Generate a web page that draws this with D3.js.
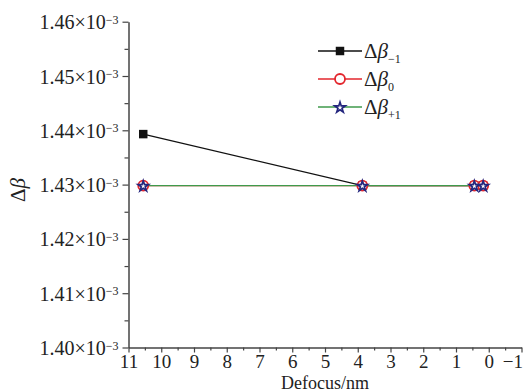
<!DOCTYPE html>
<html>
<head>
<meta charset="utf-8">
<script src="https://cdn.jsdelivr.net/npm/d3@7"></script>
<style>
body { margin: 0; background: #fff; }
svg text { font-family: "Liberation Serif", "Times New Roman", serif !important; fill: #222; }
</style>
</head>
<body>
<div id="chart"></div>
<script>
// values (Δβ in units of 1e-3)
var defocus = [10.55, 3.86, 0.44, 0.17];
var dBetaMinus1 = [1.4393, 1.4298, 1.4298, 1.4298];
var dBeta0 = [1.4298, 1.4298, 1.4298, 1.4298];
var dBetaPlus1 = [1.4298, 1.4298, 1.4298, 1.4298];
var xTicks = [11, 10, 9, 8, 7, 6, 5, 4, 3, 2, 1, 0, -1];
var yTicks = [1.40, 1.41, 1.42, 1.43, 1.44, 1.45, 1.46];
var seriesNames = ["−1", "0", "+1"];

var width = 528, height = 392;
var serif = "Liberation Serif";
var x = d3.scaleLinear().domain([11, -1]).range([128.5, 521.5]);
var y = d3.scaleLinear().domain([1.40, 1.46]).range([347.5, 21.7]);

var svg = d3.select("#chart").append("svg")
    .attr("width", width).attr("height", height);

var axisColour = "#444";

// minor ticks
svg.append("g").attr("transform", "translate(0," + y(1.40) + ")")
  .call(d3.axisBottom(x).tickValues(d3.range(10.5, -1, -1)).tickSize(3).tickFormat(""))
  .call(function(g) { g.select(".domain").remove(); g.selectAll("line").attr("stroke", axisColour).attr("stroke-width", 1.2); });
svg.append("g").attr("transform", "translate(" + x(11) + ",0)")
  .call(d3.axisLeft(y).tickValues([1.405, 1.415, 1.425, 1.435, 1.445, 1.455]).tickSize(4).tickFormat(""))
  .call(function(g) { g.select(".domain").remove(); g.selectAll("line").attr("stroke", axisColour).attr("stroke-width", 1.2); });

// x axis
var gx = svg.append("g").attr("transform", "translate(0," + y(1.40) + ")")
  .call(d3.axisBottom(x).tickValues(xTicks).tickSize(5).tickSizeOuter(0)
    .tickFormat(function(d) { return d < 0 ? "−" + (-d) : d; }));
gx.attr("font-family", serif);
gx.select(".domain").attr("stroke", axisColour).attr("stroke-width", 1.5);
gx.selectAll("line").attr("stroke", axisColour).attr("stroke-width", 1.2);
gx.selectAll("text").attr("y", 6).attr("dy", "0.75em")
  .style("font-size", "19px").attr("fill", "#222")
  .attr("text-anchor", function(d) { return d < 0 ? "end" : "middle"; })
  .attr("x", function(d) { return d < 0 ? 1 : 0; });

// y axis
var gy = svg.append("g").attr("transform", "translate(" + x(11) + ",0)")
  .call(d3.axisLeft(y).tickValues(yTicks).tickSize(6).tickSizeOuter(0).tickFormat(""));
gy.attr("font-family", serif);
gy.select(".domain").attr("stroke", axisColour).attr("stroke-width", 1.5);
gy.selectAll("line").attr("stroke", axisColour).attr("stroke-width", 1.2);
gy.selectAll(".tick").append("text")
  .attr("x", -10).attr("dy", "0.35em").attr("text-anchor", "end")
  .style("font-size", "20px")
  .each(function(d) {
    var t = d3.select(this);
    t.append("tspan").text(d.toFixed(2) + "×10");
    t.append("tspan").attr("dy", "-0.45em").style("font-size", "12px").text("−3");
  });

// axis titles
svg.append("text").attr("x", x(5)).attr("y", 389).attr("text-anchor", "middle")
  .style("font-size", "18px").text("Defocus/nm");
var yl = svg.append("text").attr("transform", "translate(25,190) rotate(-90)")
  .attr("text-anchor", "middle").style("font-size", "21px");
yl.append("tspan").text("Δ");
yl.append("tspan").style("font-style", "italic").text("β");

// series
var line = d3.line().x(function(d) { return x(d[0]); }).y(function(d) { return y(d[1]); });
var series = [
  { vals: dBetaMinus1, colour: "#111", marker: "square" },
  { vals: dBeta0, colour: "#e3262d", marker: "circle" },
  { vals: dBetaPlus1, colour: "#3f9a4b", marker: "star" }
];

function drawMarker(g, type, cx, cy) {
  if (type === "square") {
    g.append("path").attr("d", d3.symbol(d3.symbolSquare, 72)())
      .attr("transform", "translate(" + cx + "," + cy + ")").attr("fill", "#111");
  } else if (type === "circle") {
    g.append("circle").attr("cx", cx).attr("cy", cy).attr("r", 5)
      .attr("fill", "#fff").attr("stroke", "#e3262d").attr("stroke-width", 1.8);
  } else {
    g.append("path").attr("d", d3.symbol(d3.symbolStar, 34)())
      .attr("transform", "translate(" + cx + "," + (cy + 0.6) + ")")
      .attr("fill", "#fff").attr("stroke", "#23267e").attr("stroke-width", 1.7);
  }
}

series.forEach(function(s) {
  var pts = defocus.map(function(d, i) { return [d, s.vals[i]]; });
  svg.append("path").datum(pts).attr("d", line)
    .attr("fill", "none").attr("stroke", s.colour).attr("stroke-width", 1.3);
});
series.forEach(function(s) {
  var g = svg.append("g");
  defocus.forEach(function(d, i) { drawMarker(g, s.marker, x(d), y(s.vals[i])); });
});

// legend
var legend = svg.append("g");
series.forEach(function(s, i) {
  var ly = 51 + i * 28;
  legend.append("line").attr("x1", 318).attr("x2", 362).attr("y1", ly).attr("y2", ly)
    .attr("stroke", s.colour).attr("stroke-width", 1.3);
  drawMarker(legend, s.marker, 340, ly);
  var t = legend.append("text").attr("x", 364).attr("y", ly + 7).style("font-size", "21px");
  t.append("tspan").text("Δ");
  t.append("tspan").style("font-style", "italic").text("β");
  t.append("tspan").attr("dy", "0.4em").style("font-size", "12px").text(seriesNames[i]);
});
</script>
</body>
</html>
